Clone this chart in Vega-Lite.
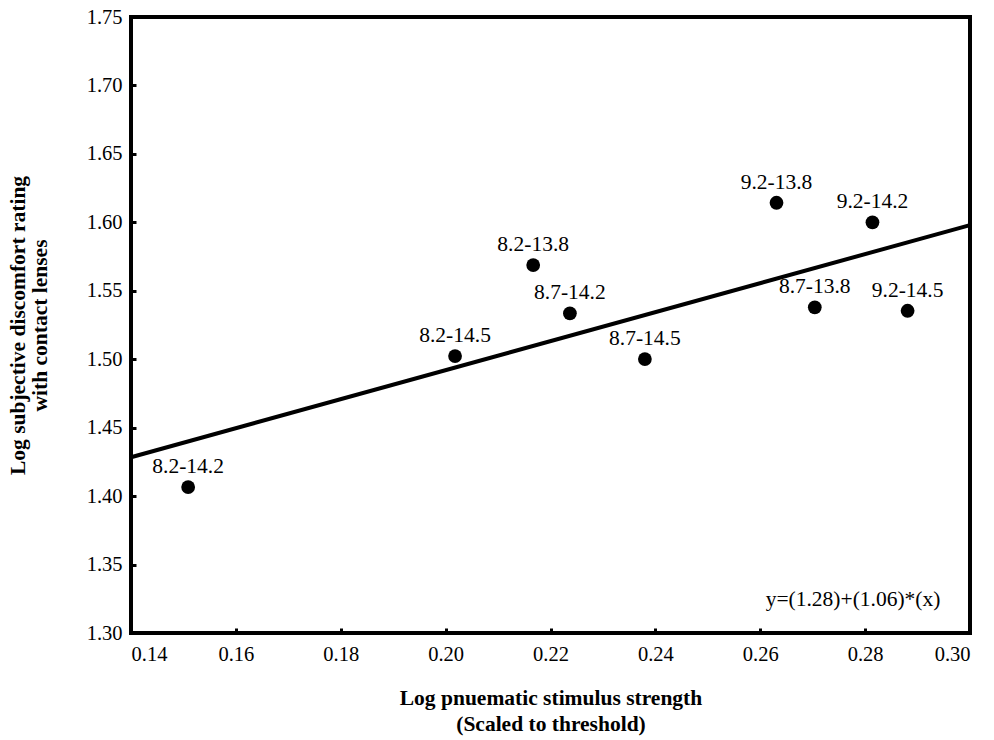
{
  "$schema": "https://vega.github.io/schema/vega-lite/v6.json",
  "width": 839,
  "height": 616,
  "autosize": {"type": "none"},
  "padding": {"left": 131, "top": 17, "right": 24, "bottom": 107},
  "background": "white",
  "config": {
    "view": {"stroke": "black", "strokeWidth": 4},
    "font": "Liberation Serif",
    "axis": {
      "domain": false,
      "grid": false,
      "tickSize": -5,
      "tickWidth": 3,
      "tickColor": "black",
      "labelFont": "Liberation Serif",
      "labelFontSize": 20.5,
      "labelColor": "black",
      "titleFont": "Liberation Serif",
      "titleFontSize": 21.5,
      "titleFontWeight": "bold",
      "titleColor": "black"
    }
  },
  "datasets": {
    "points": [
      {"x": 0.1509, "y": 1.4066, "label": "8.2-14.2"},
      {"x": 0.2018, "y": 1.5023, "label": "8.2-14.5"},
      {"x": 0.2167, "y": 1.5688, "label": "8.2-13.8"},
      {"x": 0.2237, "y": 1.5335, "label": "8.7-14.2"},
      {"x": 0.2380, "y": 1.5001, "label": "8.7-14.5"},
      {"x": 0.2631, "y": 1.6143, "label": "9.2-13.8"},
      {"x": 0.2704, "y": 1.5379, "label": "8.7-13.8"},
      {"x": 0.2814, "y": 1.6000, "label": "9.2-14.2"},
      {"x": 0.2881, "y": 1.5354, "label": "9.2-14.5"}
    ],
    "fit": [
      {"x": 0.14, "y": 1.4284},
      {"x": 0.30, "y": 1.598}
    ],
    "eq": [
      {"x": 0.2777, "y": 1.324, "text": "y=(1.28)+(1.06)*(x)"}
    ]
  },
  "layer": [
    {
      "data": {"name": "fit"},
      "mark": {"type": "line", "color": "black", "strokeWidth": 4},
      "encoding": {
        "x": {
          "field": "x", "type": "quantitative",
          "scale": {"domain": [0.14, 0.30], "nice": false, "zero": false},
          "axis": {
            "values": [0.14, 0.16, 0.18, 0.20, 0.22, 0.24, 0.26, 0.28, 0.30],
            "format": ".2f",
            "labelPadding": 16,
            "title": ["Log pnuematic stimulus strength", "(Scaled to threshold)"],
            "titlePadding": 23,
            "titleLineHeight": 26
          }
        },
        "y": {
          "field": "y", "type": "quantitative",
          "scale": {"domain": [1.30, 1.75], "nice": false, "zero": false},
          "axis": {
            "values": [1.30, 1.35, 1.40, 1.45, 1.50, 1.55, 1.60, 1.65, 1.70, 1.75],
            "format": ".2f",
            "labelPadding": 14,
            "title": ["Log subjective discomfort rating", "with contact lenses"],
            "titlePadding": 35,
            "titleLineHeight": 22
          }
        }
      }
    },
    {
      "data": {"name": "points"},
      "mark": {"type": "point", "filled": true, "color": "black", "opacity": 1, "size": 190},
      "encoding": {
        "x": {"field": "x", "type": "quantitative"},
        "y": {"field": "y", "type": "quantitative"}
      }
    },
    {
      "data": {"name": "points"},
      "mark": {"type": "text", "fontSize": 21.5, "dy": -20, "baseline": "middle", "align": "center", "color": "black"},
      "encoding": {
        "x": {"field": "x", "type": "quantitative"},
        "y": {"field": "y", "type": "quantitative"},
        "text": {"field": "label"}
      }
    },
    {
      "data": {"name": "eq"},
      "mark": {"type": "text", "fontSize": 21.5, "baseline": "middle", "align": "center", "color": "black"},
      "encoding": {
        "x": {"field": "x", "type": "quantitative"},
        "y": {"field": "y", "type": "quantitative"},
        "text": {"field": "text"}
      }
    }
  ]
}
